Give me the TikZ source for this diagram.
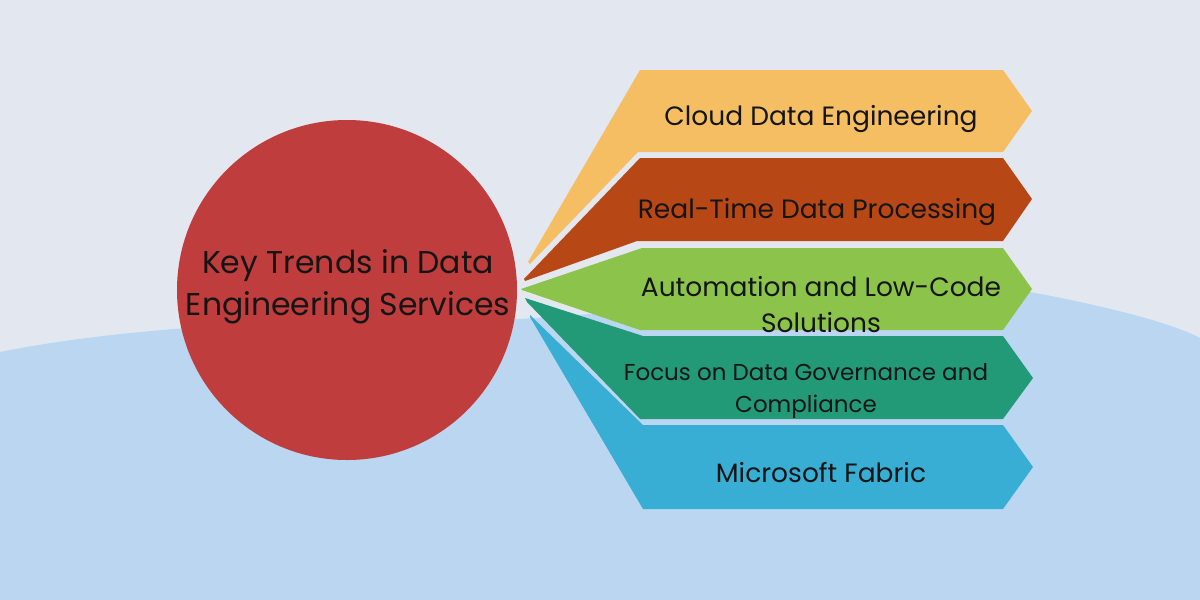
\documentclass[tikz,border=0pt]{standalone}
\usepackage{fontspec}
\setmainfont{Poppins}
\usetikzlibrary{positioning}
\definecolor{bgcol}{HTML}{E3E7F0}
\definecolor{wavecol}{HTML}{BAD6F0}
\definecolor{hubcol}{HTML}{BF3E3D}
\definecolor{cloudcol}{HTML}{F6BE62}
\definecolor{realcol}{HTML}{B84716}
\definecolor{autocol}{HTML}{8CC34B}
\definecolor{govcol}{HTML}{229A78}
\definecolor{fabcol}{HTML}{38AED4}
\definecolor{txtcol}{HTML}{151515}

\begin{document}
\begin{tikzpicture}[x=1pt,y=-1pt,
   every node/.style={text=txtcol,align=center,font=\fontsize{26.5}{36}\selectfont}]
  \useasboundingbox (0,0) rectangle (1200,600);
  \fill[bgcol] (0,0) rectangle (1200,600);
  \fill[wavecol] (0,352) .. controls (150,322) and (350,318) .. (520,319)
     .. controls (800,300) and (950,280) .. (1030,292)
     .. controls (1100,305) and (1170,322) .. (1200,338) -- (1200,600) -- (0,600) -- cycle;
  % centre circle
  \node[circle,fill=hubcol,minimum size=340pt,inner sep=0pt] (hub) at (347,290) {};
  \node[font=\fontsize{31.5}{42}\selectfont] (hubtxt) at (348,287)
     {Key Trends in Data\\Engineering Services};
  % bands
  \fill[cloudcol] (528,262) -- (640,70) -- (1003,70) -- (1032,111) -- (1003,152) -- (638,152) -- (530,264) -- cycle;
  \fill[realcol] (524,279) -- (640,158) -- (1003,158) -- (1032,199) -- (1003,241) -- (637,241) -- (525,281) -- cycle;
  \fill[autocol] (521,289) -- (642,248) -- (1003,248) -- (1032,289) -- (1003,330) -- (640,330) -- (522,290) -- cycle;
  \fill[govcol] (525,298) -- (643,336) -- (1003,336) -- (1033,378) -- (1003,419) -- (640,419) -- (527,302) -- cycle;
  \fill[fabcol] (530,315) -- (643,425) -- (1003,425) -- (1033,467) -- (1003,509) -- (643,509) -- (530,317) -- cycle;
  \node (cloud) at (821,119) {Cloud Data Engineering};
  \node (real) at (817,212) {Real-Time Data Processing};
  \node (auto) at (821,305) {Automation and Low-Code\\Solutions};
  \node[font=\fontsize{23}{32}\selectfont] (gov) at (806,391) {Focus on Data Governance and\\Compliance};
  \node (fab) at (821,472) {Microsoft Fabric};
\end{tikzpicture}
\end{document}
